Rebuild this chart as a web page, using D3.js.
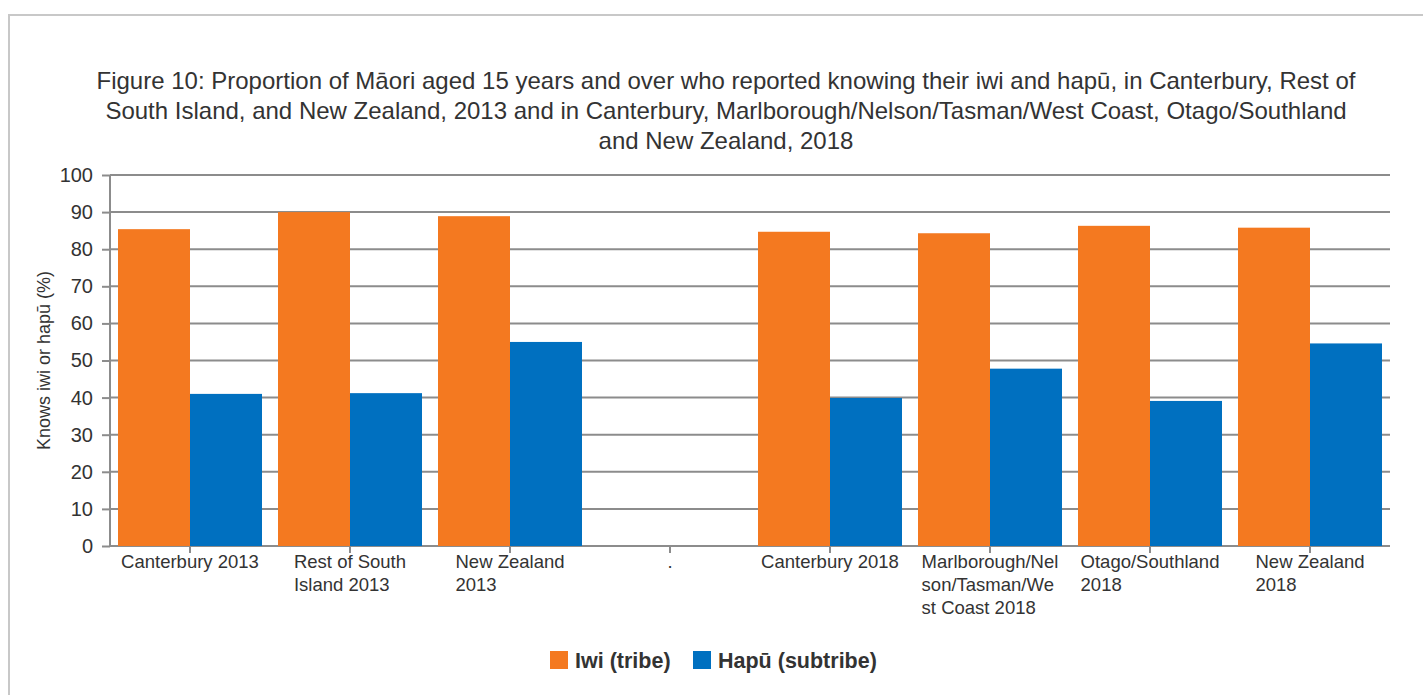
<!DOCTYPE html>
<html>
<head>
<meta charset="utf-8">
<script src="https://cdn.jsdelivr.net/npm/d3@7/dist/d3.min.js"></script>
<style>
  html, body { margin: 0; padding: 0; background: #fff; }
  svg { display: block; font-family: "Liberation Sans", Arial, sans-serif; }
</style>
</head>
<body>
<div id="chart"></div>
<script>
// Categories (the "." slot is an empty spacer column in the original chart)
var categories = ["c2013", "rsi2013", "nz2013", "gap", "c2018", "mnt2018", "os2018", "nz2018"];
var categoryLabels = [
  ["Canterbury 2013"],
  ["Rest of South", "Island 2013"],
  ["New Zealand", "2013"],
  ["."],
  ["Canterbury 2018"],
  ["Marlborough/Nel", "son/Tasman/We", "st Coast 2018"],
  ["Otago/Southland", "2018"],
  ["New Zealand", "2018"]
];
var seriesNames = ["Iwi (tribe)", "Hapū (subtribe)"];
var iwiValues  = [85.4, 90.0, 88.9, null, 84.7, 84.3, 86.3, 85.8];
var hapuValues = [41.0, 41.2, 55.0, null, 39.9, 47.8, 39.1, 54.6];
var yTicks = [0, 10, 20, 30, 40, 50, 60, 70, 80, 90, 100];
var titleLines = [
  "Figure 10: Proportion of Māori aged 15 years and over who reported knowing their iwi and hapū, in Canterbury, Rest of",
  "South Island, and New Zealand, 2013 and in Canterbury, Marlborough/Nelson/Tasman/West Coast, Otago/Southland",
  "and New Zealand, 2018"
];
var yLabel = "Knows iwi or hapū (%)";

var width = 1423, height = 695;
var colors = ["#f47920", "#0070c0"],
    gridColor = "#8c8c8c",
    textColor = "#333333";

var margin = {left: 110, right: 33, top: 175, bottom: 149};  // plot area 110..1390, 175..546

var svg = d3.select("#chart").append("svg")
    .attr("width", width)
    .attr("height", height);

// outer frame
svg.append("rect")
    .attr("x", 9).attr("y", 15)
    .attr("width", width).attr("height", height)
    .attr("fill", "none")
    .attr("stroke", "#c8c8c8")
    .attr("stroke-width", 2);

var x = d3.scaleBand()
    .domain(categories)
    .range([margin.left, width - margin.right])
    .paddingInner(0.1)
    .paddingOuter(0.05);

var xInner = d3.scaleBand()
    .domain(seriesNames)
    .range([0, x.bandwidth()]);

var y = d3.scaleLinear()
    .domain([0, 100])
    .range([height - margin.bottom, margin.top]);

// title
svg.append("text")
    .attr("text-anchor", "middle")
    .attr("fill", textColor)
    .attr("font-size", 24)
    .selectAll("tspan")
    .data(titleLines)
    .join("tspan")
    .attr("x", 726)
    .attr("y", function (d, i) { return 89 + i * 30; })
    .text(function (d) { return d; });

// y axis with gridlines
var yAxis = svg.append("g")
    .attr("transform", "translate(" + margin.left + ",0)")
    .call(d3.axisLeft(y).tickValues(yTicks).tickSize(8).tickPadding(9));
yAxis.select(".domain").remove();
yAxis.selectAll(".tick line").attr("stroke", gridColor).attr("stroke-width", 2);
yAxis.selectAll(".tick text")
    .attr("fill", textColor)
    .attr("font-size", 20)
    .attr("font-family", "Liberation Sans, Arial, sans-serif");

svg.append("g")
    .selectAll("line")
    .data(yTicks)
    .join("line")
    .attr("x1", margin.left).attr("x2", width - margin.right)
    .attr("y1", function (d) { return y(d); })
    .attr("y2", function (d) { return y(d); })
    .attr("stroke", gridColor)
    .attr("stroke-width", 2);

// bars
var rows = categories.map(function (c, i) {
  return {cat: c, values: [iwiValues[i], hapuValues[i]]};
});

var groups = svg.append("g")
    .selectAll("g")
    .data(rows)
    .join("g")
    .attr("transform", function (d) { return "translate(" + x(d.cat) + ",0)"; });

groups.selectAll("rect")
    .data(function (d) {
      return d.values.map(function (v, k) { return {series: seriesNames[k], value: v, k: k}; })
                     .filter(function (e) { return e.value != null; });
    })
    .join("rect")
    .attr("x", function (d) { return xInner(d.series); })
    .attr("width", xInner.bandwidth())
    .attr("y", function (d) { return y(d.value); })
    .attr("height", function (d) { return y(0) - y(d.value); })
    .attr("fill", function (d) { return colors[d.k]; });

// y axis line (left)
svg.append("line")
    .attr("x1", margin.left).attr("x2", margin.left)
    .attr("y1", y(100)).attr("y2", y(0))
    .attr("stroke", gridColor)
    .attr("stroke-width", 2);

// x axis ticks and wrapped labels
var xAxis = svg.append("g")
    .attr("transform", "translate(0," + y(0) + ")");

xAxis.selectAll("line")
    .data(categories)
    .join("line")
    .attr("x1", function (d) { return x(d) + x.bandwidth() / 2; })
    .attr("x2", function (d) { return x(d) + x.bandwidth() / 2; })
    .attr("y1", 0).attr("y2", 7)
    .attr("stroke", gridColor)
    .attr("stroke-width", 2);

var labels = xAxis.selectAll("text")
    .data(categories)
    .join("text")
    .attr("fill", textColor)
    .attr("font-size", 18.5);

labels.each(function (d, i) {
  var t = d3.select(this);
  t.selectAll("tspan")
    .data(categoryLabels[i])
    .join("tspan")
    .attr("x", 0)
    .attr("y", function (l, j) { return 22 + j * 23; })
    .text(function (l) { return l; });
  // block is centred on the tick, lines left-aligned inside it
  var w = this.getBBox().width;
  t.attr("transform", "translate(" + (x(d) + x.bandwidth() / 2 - w / 2) + ",0)");
});

// legend
var legend = svg.append("g")
    .attr("transform", "translate(550,651)");

var legendX = [0, 143];
var items = legend.selectAll("g")
    .data(seriesNames)
    .join("g")
    .attr("transform", function (d, i) { return "translate(" + legendX[i] + ",0)"; });

items.append("rect")
    .attr("width", 18).attr("height", 18)
    .attr("fill", function (d, i) { return colors[i]; });

items.append("text")
    .attr("x", 25).attr("y", 17)
    .attr("fill", textColor)
    .attr("font-size", 21.5)
    .attr("font-weight", "bold")
    .text(function (d) { return d; });

// y axis title
svg.append("text")
    .attr("transform", "translate(50," + ((y(0) + y(100)) / 2) + ") rotate(-90)")
    .attr("text-anchor", "middle")
    .attr("fill", textColor)
    .attr("font-size", 18)
    .text(yLabel);
</script>
</body>
</html>
